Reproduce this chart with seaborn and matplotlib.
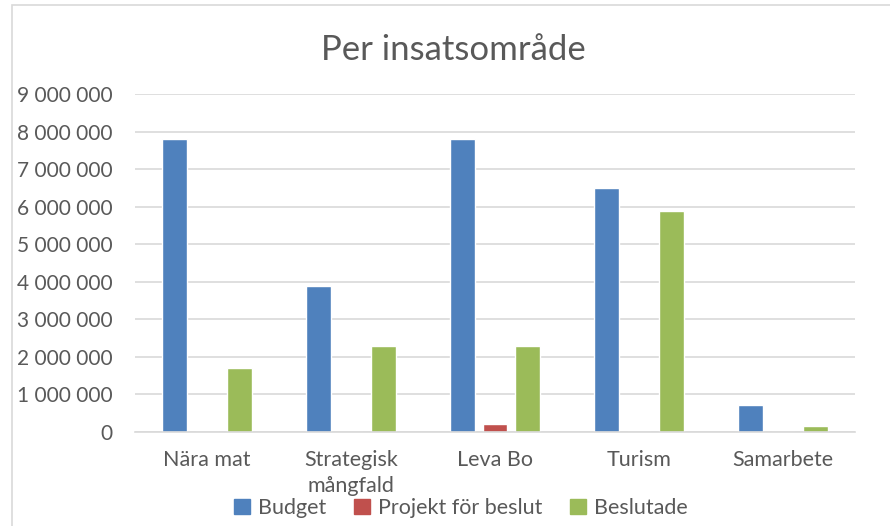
import matplotlib.pyplot as plt
import matplotlib.ticker as mticker
from matplotlib.patches import Rectangle
import pandas as pd
import seaborn as sns

# data
categories = ["Nära mat", "Strategisk\nmångfald", "Leva Bo", "Turism", "Samarbete"]
series_names = ["Budget", "Projekt för beslut", "Beslutade"]
budget = [7800000, 3890000, 7800000, 6510000, 710000]
projekt = [0, 0, 205000, 0, 0]
beslutade = [1710000, 2280000, 2290000, 5890000, 150000]
colors = ["#4F81BD", "#C0504D", "#9BBB59"]

rows = []
for name, vals in zip(series_names, [budget, projekt, beslutade]):
    for cat, v in zip(categories, vals):
        rows.append({"kategori": cat, "serie": name, "belopp": v})
df = pd.DataFrame(rows)

sns.set_style("white")
plt.rcParams["font.family"] = ["Lato", "DejaVu Sans"]
text_gray = "#595959"
grid_gray = "#D9D9D9"

fig = plt.figure(figsize=(8.9, 5.26), dpi=100)
ax = fig.add_axes([135 / 890, 1 - 432 / 526, 720 / 890, 338 / 526])

sns.barplot(
    data=df, x="kategori", y="belopp", hue="serie",
    palette=colors, width=0.667, gap=0.22, ax=ax, legend=False,
    saturation=1,
)

ax.set_ylim(0, 9000000)
ax.set_xlim(-0.5, 4.5)
ax.yaxis.set_major_locator(mticker.MultipleLocator(1000000))
ax.yaxis.set_major_formatter(
    mticker.FuncFormatter(lambda v, p: f"{v:,.0f}".replace(",", " "))
)
ax.grid(axis="y", color=grid_gray, linewidth=1.2)
ax.set_axisbelow(True)
for s in ["left", "right", "top"]:
    ax.spines[s].set_visible(False)
ax.spines["bottom"].set_color(grid_gray)
ax.spines["bottom"].set_linewidth(1.2)
ax.tick_params(axis="y", length=0, pad=16, labelsize=15, labelcolor=text_gray)
ax.tick_params(axis="x", length=0, pad=13, labelsize=15.5, labelcolor=text_gray)
for lbl in ax.get_xticklabels():
    lbl.set_verticalalignment("top")
    lbl.set_linespacing(1.4)
ax.set_xlabel("")
ax.set_ylabel("")

fig.text(453 / 890, 1 - 50 / 526, "Per insatsområde", ha="center", va="center",
         fontsize=25, color=text_gray)

handles = [Rectangle((0, 0), 1, 1, color=c) for c in colors]
fig.legend(handles, series_names, loc="center", bbox_to_anchor=(461 / 890, 1 - 508 / 526),
           ncol=3, frameon=False, fontsize=15.5, labelcolor=text_gray,
           handlelength=0.75, handleheight=0.75, handletextpad=0.35, columnspacing=1.3)

# outer chart border
fig.patches.append(Rectangle((12 / 890, -0.1), 1.2, 1 - 5 / 526 + 0.1,
                             transform=fig.transFigure, fill=False,
                             edgecolor=grid_gray, linewidth=1.2))

fig.savefig("out.png", dpi=100)
